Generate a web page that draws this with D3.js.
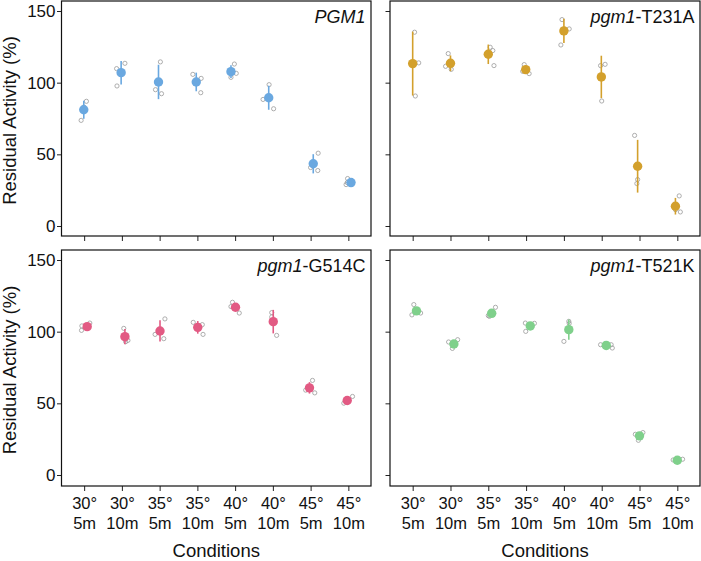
<!DOCTYPE html>
<html>
<head>
<meta charset="utf-8">
<script src="https://cdn.jsdelivr.net/npm/d3@7"></script>
<style>
  body { margin: 0; background: #fff; }
  svg { display: block; font-family: "Liberation Sans", Arial, Helvetica, sans-serif; }
</style>
</head>
<body>
<svg id="chart" width="701" height="561"></svg>
<script>
// ---------- DATA ----------
const conditionsTemp = ["30°", "30°", "35°", "35°", "40°", "40°", "45°", "45°"];
const conditionsTime = ["5m", "10m", "5m", "10m", "5m", "10m", "5m", "10m"];
const yTickValues = [0, 50, 100, 150];

const panelNames = [
  { italic: "PGM1", rest: "" },
  { italic: "pgm1", rest: "-T231A" },
  { italic: "pgm1", rest: "-G514C" },
  { italic: "pgm1", rest: "-T521K" }
];
const panelColors = ["#6aa8e0", "#d3a02c", "#e25a83", "#7fd08b"];

// mean residual activity (%)
const meanPGM1  = [81.1, 107.0, 100.5, 100.5, 107.7, 89.5, 43.4, 30.3];
const meanT231A = [113.3, 113.5, 119.8, 109.1, 136.1, 104.0, 41.7, 13.8];
const meanG514C = [103.5, 96.5, 100.5, 103.0, 117.0, 107.0, 60.8, 52.0];
const meanT521K = [114.5, 91.4, 112.8, 104.0, 101.4, 90.4, 27.3, 10.3];

// error bar half-lengths
const errPGM1  = [6.3, 8.2, 12.0, 6.5, 4.5, 8.4, 6.7, 1.5];
const errT231A = [22.3, 5.5, 6.8, 1.5, 8.5, 14.8, 18.4, 5.8];
const errG514C = [1.5, 5.3, 7.4, 4.4, 2.0, 8.2, 4.0, 1.5];
const errT521K = [2.0, 1.5, 1.5, 1.5, 7.1, 1.0, 1.5, 1.0];

// replicate values (3 per condition)
const repsPGM1 = [
  [87, 83, 73.7], [113.5, 109.8, 97.7], [114.5, 95.1, 92.3], [105.8, 103, 93],
  [113, 106.5, 103.7], [98.6, 88.3, 81.8], [50.8, 40.8, 38.7], [33.1, 28.9, 30.3]
];
const repsT231A = [
  [135.2, 113.8, 90.7], [120.3, 111.4, 109.3], [124.7, 122.4, 111.9], [112.6, 107.9, 106.3],
  [144, 137.5, 126.3], [111.9, 112.8, 87.2], [63.2, 32.4, 29.6], [21, 9.8, 11.4]
];
const repsG514C = [
  [106, 100.9, 104], [102.3, 93.9, 93], [108.9, 98.1, 95.1], [106.5, 104.9, 98.1],
  [120.5, 117.5, 113], [113.3, 110.3, 97.4], [66, 59.2, 57.3], [54.8, 50.1, 50.8]
];
const repsT521K = [
  [118.9, 111.7, 113], [92.8, 94.4, 88.3], [117, 110.7, 111.2], [106, 105.8, 100.2],
  [93.2, 105.8, 107.2], [90.9, 90.9, 88.6], [28.4, 29.6, 24.2], [10.5, 11, 10]
];

// horizontal jitter (fraction of category step)
const meanJitterPGM1  = [-0.01, -0.02, -0.03, -0.03, -0.11, -0.11, 0.07, 0.07];
const meanJitterT231A = [0, 0, 0, -0.01, 0, -0.01, -0.05, -0.05];
const meanJitterG514C = [0.08, 0.08, 0.01, 0.01, 0.01, 0.01, -0.03, -0.03];
const meanJitterT521K = [0.1, 0.09, 0.09, 0.11, 0.13, 0.12, 0, 0];

const repJitterPGM1 = [
  [0.06, -0.01, -0.08], [0.08, -0.14, -0.13], [0.02, -0.11, 0.05], [-0.12, 0.1, 0.09],
  [-0.02, 0.03, -0.11], [-0.1, -0.26, 0.02], [0.2, 0, 0.19], [-0.02, -0.06, -0.03]
];
const repJitterT231A = [
  [0.05, 0.16, 0.07], [-0.06, -0.13, 0.02], [0.05, 0.12, 0.15], [-0.05, -0.09, 0.08],
  [-0.05, 0.14, -0.08], [-0.03, 0.09, 0], [-0.13, -0.05, -0.07], [0.05, 0.08, -0.05]
];
const repJitterG514C = [
  [0.15, -0.07, -0.06], [0.05, 0.16, 0.1], [0.14, -0.12, 0.11], [-0.11, 0.13, 0.15],
  [-0.07, -0.11, 0.11], [-0.03, -0.03, 0.1], [0.05, -0.13, 0.11], [0.11, -0.12, -0.02]
];
const repJitterT521K = [
  [0.03, -0.02, 0.21], [-0.05, 0.19, 0.05], [0.19, 0.03, 0], [-0.02, 0.22, -0.01],
  [0, 0.14, 0.13], [-0.03, 0.25, 0.28], [-0.11, 0.09, -0.03], [-0.11, 0.14, 0.01]
];

const panels = [
  { name: panelNames[0], color: panelColors[0], mean: meanPGM1,  err: errPGM1,  reps: repsPGM1,  mj: meanJitterPGM1,  rj: repJitterPGM1 },
  { name: panelNames[1], color: panelColors[1], mean: meanT231A, err: errT231A, reps: repsT231A, mj: meanJitterT231A, rj: repJitterT231A },
  { name: panelNames[2], color: panelColors[2], mean: meanG514C, err: errG514C, reps: repsG514C, mj: meanJitterG514C, rj: repJitterG514C },
  { name: panelNames[3], color: panelColors[3], mean: meanT521K, err: errT521K, reps: repsT521K, mj: meanJitterT521K, rj: repJitterT521K }
];

// ---------- LAYOUT ----------
const svg = d3.select("#chart");
const colX = [[61.5, 371], [390, 700]];
const rowY = [[1, 236], [250, 486]];

panels.forEach((p, i) => {
  const col = i % 2, row = Math.floor(i / 2);
  const [x0, x1] = colX[col];
  const [y0, y1] = rowY[row];

  const x = d3.scalePoint().domain(d3.range(8)).range([x0, x1]).padding(0.6);
  const step = x.step();
  const y = d3.scaleLinear().domain([0, 150]).range([y0 + 225, y0 + 10]);

  const g = svg.append("g");

  // y axis
  const yAxis = d3.axisLeft(y).tickValues(yTickValues).tickSize(4.5).tickPadding(1.5)
    .tickFormat(col === 0 ? d3.format("d") : () => "");
  const ya = g.append("g").attr("transform", `translate(${x0},0)`).call(yAxis);
  ya.select(".domain").remove();
  ya.selectAll("line").attr("stroke", "#222").attr("stroke-width", 1);
  ya.selectAll("text").attr("font-size", 17).attr("fill", "#111")
    .attr("font-family", "'Liberation Sans', Arial, sans-serif");

  // x axis
  const xAxis = d3.axisBottom(x).tickSize(5).tickFormat(() => "");
  const xa = g.append("g").attr("transform", `translate(0,${y1})`).call(xAxis);
  xa.select(".domain").remove();
  xa.selectAll("line").attr("stroke", "#222").attr("stroke-width", 1);
  if (row === 1) {
    xa.selectAll(".tick").each(function(d) {
      const t = d3.select(this).append("text")
        .attr("text-anchor", "middle").attr("fill", "#111")
        .attr("font-size", 16.5);
      t.append("tspan").attr("x", 0).attr("y", 509 - y1).text(conditionsTemp[d]);
      t.append("tspan").attr("x", 0).attr("y", 529 - y1).text(conditionsTime[d]);
    });
    svg.append("text")
      .attr("x", (x0 + x1) / 2).attr("y", 557)
      .attr("text-anchor", "middle").attr("font-size", 18.5).attr("fill", "#111")
      .text("Conditions");
  }

  // y title
  if (col === 0) {
    svg.append("text")
      .attr("transform", `translate(15.5,${(y0 + y1) / 2 + 2}) rotate(-90)`)
      .attr("text-anchor", "middle").attr("font-size", 18.5).attr("fill", "#111")
      .text("Residual Activity (%)");
  }

  // replicates
  const repData = [];
  p.reps.forEach((arr, ci) => arr.forEach((v, k) => repData.push({ ci, v, j: p.rj[ci][k] })));
  g.selectAll("circle.rep").data(repData).join("circle")
    .attr("class", "rep")
    .attr("cx", d => x(d.ci) + d.j * step)
    .attr("cy", d => y(d.v))
    .attr("r", 2.1)
    .attr("fill", "none")
    .attr("stroke", "#9a9a9a")
    .attr("stroke-width", 0.8);

  // error bars
  g.selectAll("line.err").data(p.mean).join("line")
    .attr("class", "err")
    .attr("x1", (d, ci) => x(ci) + p.mj[ci] * step)
    .attr("x2", (d, ci) => x(ci) + p.mj[ci] * step)
    .attr("y1", (d, ci) => y(d + p.err[ci]))
    .attr("y2", (d, ci) => y(d - p.err[ci]))
    .attr("stroke", p.color).attr("stroke-width", 1.6);

  // means
  g.selectAll("circle.mean").data(p.mean).join("circle")
    .attr("class", "mean")
    .attr("cx", (d, ci) => x(ci) + p.mj[ci] * step)
    .attr("cy", d => y(d))
    .attr("r", 4.7)
    .attr("fill", p.color);

  // border
  g.append("rect")
    .attr("x", x0).attr("y", y0).attr("width", x1 - x0).attr("height", y1 - y0)
    .attr("fill", "none").attr("stroke", "#111").attr("stroke-width", 1.2);

  // panel title
  const title = g.append("text")
    .attr("x", x1 - 5.5).attr("y", y0 + 21.5)
    .attr("text-anchor", "end").attr("font-size", 18).attr("fill", "#111");
  title.append("tspan").attr("font-style", "italic").text(p.name.italic);
  if (p.name.rest) title.append("tspan").text(p.name.rest);
});
</script>
</body>
</html>
